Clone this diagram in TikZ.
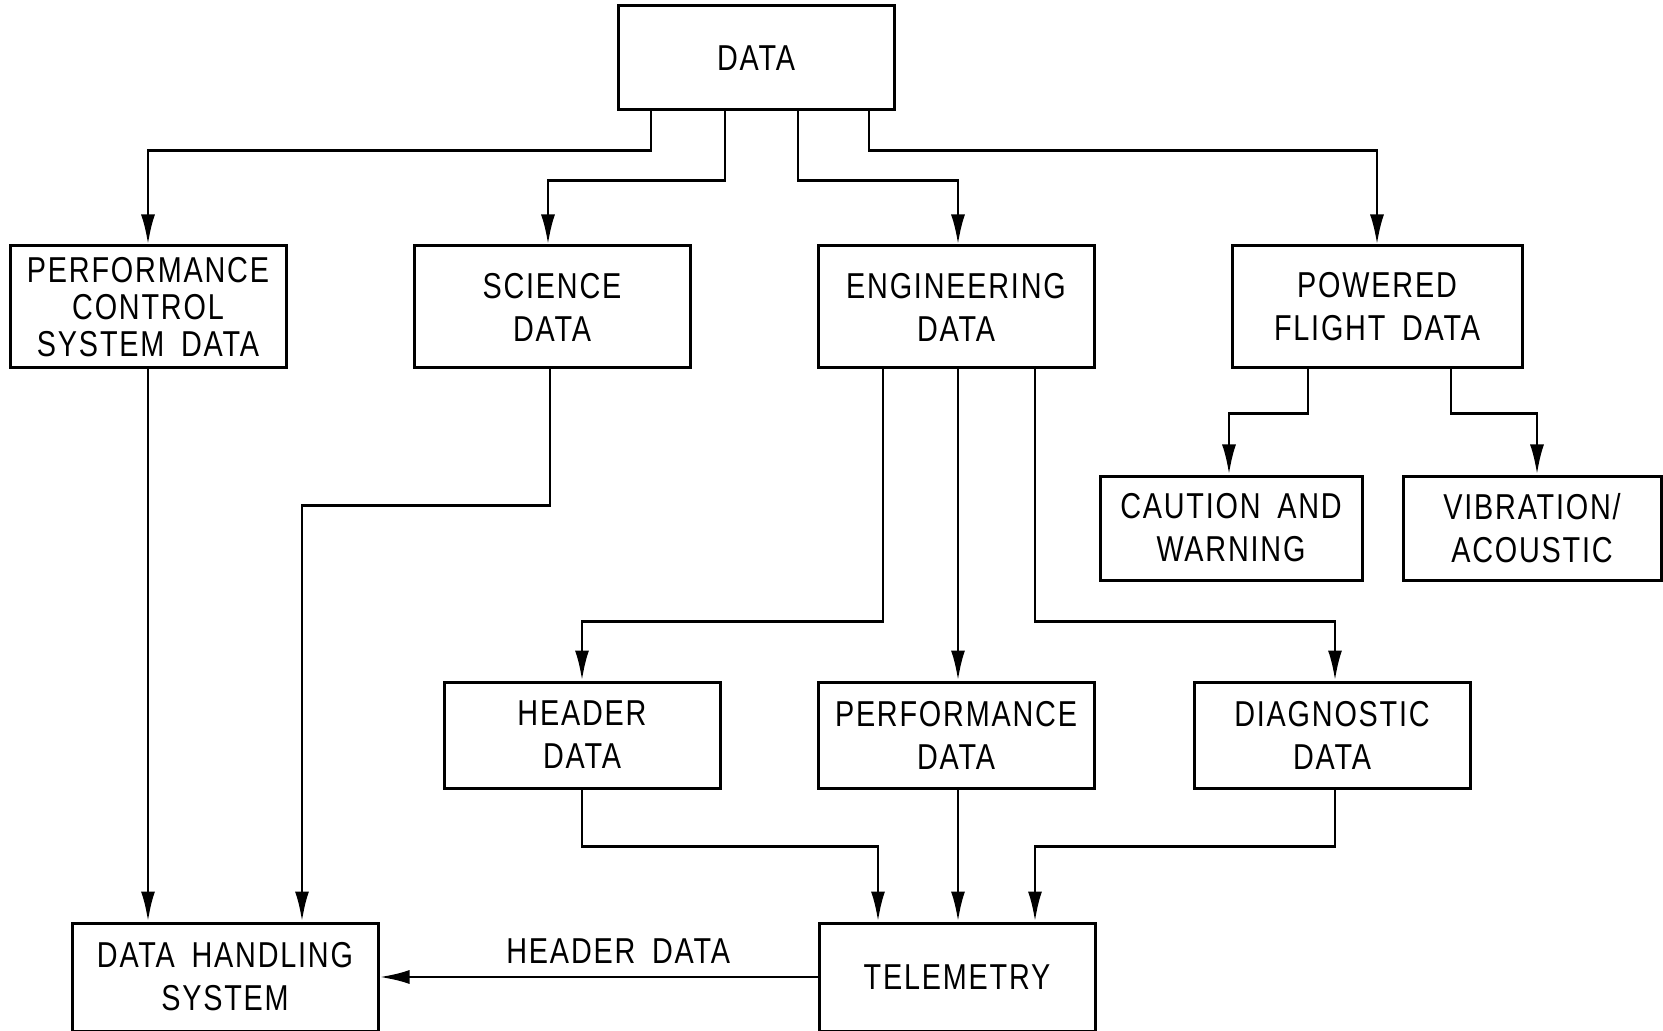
\documentclass[tikz,border=0pt]{standalone}
\usepackage{fontspec}
\setmainfont{Liberation Sans}[FakeStretch=0.8, LetterSpace=5, WordSpace=1.7]
\usepackage{tikz}
\usetikzlibrary{arrows.meta, calc}
\tikzset{
  %% -- block of the data tree --
  blk/.style={
    draw, line width=1.5pt, minimum width=#1, minimum height=52pt,
    align=center, inner sep=0pt,
    font=\fontsize{18}{21.5}\selectfont
  },
  blk/.default=138pt,
  %% -- flow arrow --
  arr/.style={-{Latex[length=15pt, width=7pt]}, line width=1.4pt},
}
\begin{document}
\begin{tikzpicture}[x=0.5pt, y=-0.5pt]
\useasboundingbox (0,0) rectangle (1663,1031);
%% Nodes
\node[blk]        (data) at (756, 58)   {DATA};
\node[blk, minimum height=61pt, font=\fontsize{18}{18.5}\selectfont] (pcs) at (148, 307)
  {PERFORMANCE\\CONTROL\\SYSTEM DATA};
\node[blk, minimum height=61pt] (sci)  at (552, 307)  {SCIENCE\\DATA};
\node[blk, minimum height=61pt] (eng)  at (956, 307)  {ENGINEERING\\DATA};
\node[blk=145pt, minimum height=61pt] (pfd) at (1377, 307) {POWERED\\FLIGHT DATA};
\node[blk=131pt]  (caut) at (1231, 528) {CAUTION AND\\WARNING};
\node[blk=129pt]  (vib)  at (1532, 528) {VIBRATION/\\ACOUSTIC};
\node[blk, minimum height=53pt] (hdr)  at (582, 735)  {HEADER\\DATA};
\node[blk, minimum height=53pt] (perf) at (956, 735)  {PERFORMANCE\\DATA};
\node[blk, minimum height=53pt] (diag) at (1332, 735) {DIAGNOSTIC\\DATA};
\node[blk=153pt, minimum height=54pt] (dhs) at (225, 977) {DATA HANDLING\\SYSTEM};
\node[blk, minimum height=54pt] (tel)  at (957, 977)  {TELEMETRY};

%% DATA -> first level
\draw[arr] ($(data.south)+(-105,0)$) |- ($(pcs.north)+(0,-94)$) -- (pcs.north);
\draw[arr] ($(data.south)+(-31,0)$)  |- ($(sci.north)+(-4,-64)$) -- ($(sci.north)+(-4,0)$);
\draw[arr] ($(data.south)+(42,0)$)   |- ($(eng.north)+(2,-64)$)  -- ($(eng.north)+(2,0)$);
\draw[arr] ($(data.south)+(113,0)$)  |- ($(pfd.north)+(0,-94)$)  -- (pfd.north);

%% POWERED FLIGHT DATA -> second level
\draw[arr] ($(pfd.south)+(-69,0)$) |- ($(caut.north)+(-2,-61)$) -- ($(caut.north)+(-2,0)$);
\draw[arr] ($(pfd.south)+(74,0)$)  |- ($(vib.north)+(5,-61)$)   -- ($(vib.north)+(5,0)$);

%% ENGINEERING DATA -> second level
\draw[arr] ($(eng.south)+(-73,0)$) |- ($(hdr.north)+(0,-59)$) -- (hdr.north);
\draw[arr] ($(eng.south)+(2,0)$)   -- ($(perf.north)+(2,0)$);
\draw[arr] ($(eng.south)+(79,0)$)  |- ($(diag.north)+(3,-59)$) -- ($(diag.north)+(3,0)$);

%% into DATA HANDLING SYSTEM
\draw[arr] (pcs.south) -- (pcs.south |- dhs.north);
\draw[arr] ($(sci.south)+(-2,0)$) |- ($(dhs.north)+(77,-416)$) -- ($(dhs.north)+(77,0)$);

%% into TELEMETRY
\draw[arr] (hdr.south) |- ($(tel.north)+(-79,-75)$) -- ($(tel.north)+(-79,0)$);
\draw[arr] ($(perf.south)+(2,0)$) -- ($(tel.north)+(1,0)$);
\draw[arr] ($(diag.south)+(3,0)$) |- ($(tel.north)+(78,-75)$) -- ($(tel.north)+(78,0)$);

%% TELEMETRY -> DATA HANDLING SYSTEM
\draw[arr] (tel.west) -- node[above, pos=0.455, inner sep=6pt,
  font=\fontsize{18}{21}\selectfont] {HEADER DATA} (dhs.east);
\end{tikzpicture}
\end{document}
